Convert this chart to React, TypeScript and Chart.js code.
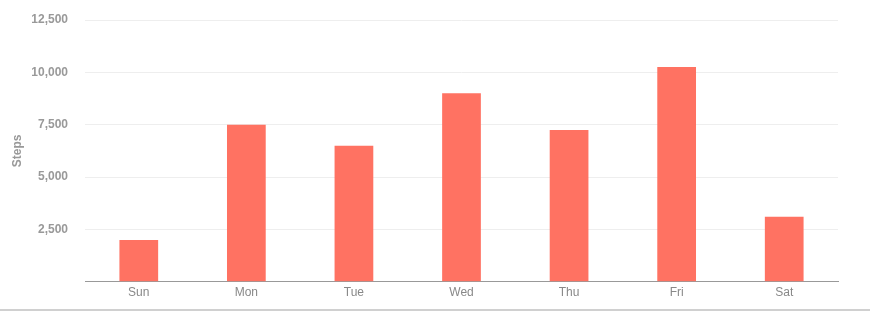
import React, { useEffect, useRef } from "react";
import { Chart, registerables } from "chart.js";

Chart.register(...registerables);

const days = ["Sun", "Mon", "Tue", "Wed", "Thu", "Fri", "Sat"];
const steps = [2000, 7500, 6500, 9000, 7250, 10250, 3100];
const yMax = 12500;
const yStep = 2500;

export default function App() {
  const ref = useRef<HTMLCanvasElement | null>(null);

  useEffect(() => {
    if (!ref.current) return;
    const chart = new Chart(ref.current, {
      type: "bar",
      data: {
        labels: days,
        datasets: [
          {
            label: "Steps",
            data: steps,
            backgroundColor: "#ff7262",
            barPercentage: 0.9,
            categoryPercentage: 0.4,
          },
        ],
      },
      options: {
        animation: false,
        responsive: false,
        maintainAspectRatio: false,
        layout: { padding: { top: 0, right: 32, bottom: 0, left: 0 } },
        plugins: { legend: { display: false }, tooltip: { enabled: false } },
        scales: {
          x: {
            grid: { display: false, drawTicks: false },
            border: { color: "#999", width: 1 },
            ticks: {
              color: "#888",
              font: { family: "Liberation Sans, Arial, sans-serif", size: 12 },
              padding: 4,
            },
          },
          y: {
            min: 0,
            max: yMax,
            grid: { color: "#eeeeee", drawTicks: false },
            border: { display: false },
            afterFit: (scale: any) => {
              scale.width = 85;
              scale.paddingTop = 20;
            },
            ticks: {
              stepSize: yStep,
              color: "#999",
              padding: 17,
              font: { family: "Liberation Sans, Arial, sans-serif", size: 12, weight: "bold" },
              callback: (v: any) => (v === 0 ? "" : Number(v).toLocaleString("en-US")),
            },
            title: {
              display: true,
              text: "Steps",
              color: "#999",
              padding: { top: 10, bottom: 4 },
              font: { family: "Liberation Sans, Arial, sans-serif", size: 12, weight: "bold" },
            },
          },
        },
      },
    });
    return () => chart.destroy();
  }, []);

  return (
    <div style={{ position: "absolute", left: 0, top: 0, width: 870, height: 311, background: "#fff" }}>
      <canvas ref={ref} width={870} height={306} style={{ display: "block" }} />
      <div style={{ position: "absolute", left: 0, top: 309, width: 870, height: 2, background: "#d0d0d0" }} />
    </div>
  );
}
